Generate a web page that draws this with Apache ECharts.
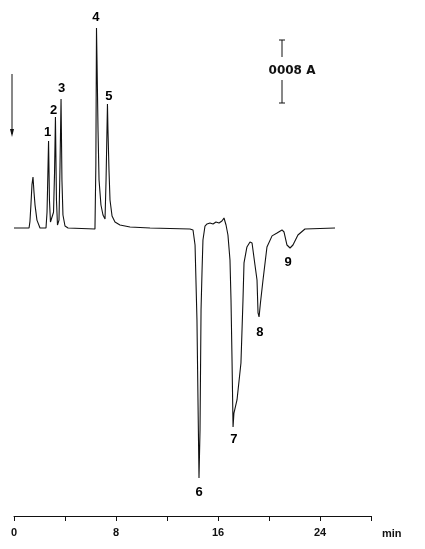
<!DOCTYPE html>
<html>
<head>
<meta charset="utf-8">
<script src="https://cdn.jsdelivr.net/npm/echarts@6/dist/echarts.min.js"></script>
<style>
html,body{margin:0;padding:0;background:#fff;}
#chart{width:425px;height:549px;}
</style>
</head>
<body>
<div id="chart"></div>
<script>
// Retention time (min)
var times = [0,1.18,1.25,1.33,1.41,1.49,1.57,1.65,1.80,2.04,2.51,2.59,2.63,2.71,2.78,2.86,2.98,3.10,3.18,3.25,3.33,3.41,3.53,3.61,3.69,3.76,3.84,4.00,4.24,6.35,6.42,6.47,6.51,6.59,6.67,6.82,6.98,7.14,7.22,7.33,7.37,7.45,7.53,7.69,7.92,8.31,9.10,10.67,13.80,14.04,14.20,14.27,14.35,14.43,14.51,14.59,14.67,14.75,14.82,14.98,15.14,15.37,15.61,15.84,16.08,16.31,16.47,16.63,16.78,16.94,17.02,17.10,17.18,17.25,17.49,17.80,17.96,18.04,18.27,18.51,18.67,18.90,19.06,19.14,19.22,19.33,19.53,19.84,20.24,20.63,21.02,21.18,21.41,21.65,21.88,22.27,22.82,25.18];
// Detector signal (mAU)
var signal = [0,0,0.8,3.0,5.5,6.48,4.5,2.9,1.0,0,0,2.0,4.83,11.05,3.56,0.76,0.51,2.0,7.0,14.10,3.56,0.38,1.0,8.0,16.38,6.10,1.65,0.25,0,-0.13,8.0,25.40,21.33,12.44,6.10,2.92,1.65,1.14,6.10,15.75,12.44,7.37,3.56,1.52,0.76,0.38,0.13,0,-0.13,-0.25,-2.16,-6.60,-11.68,-21.84,-31.75,-25.65,-10.41,-5.33,-1.52,0.25,0.51,0.63,0.51,0.76,0.63,0.89,1.27,0.38,-0.89,-4.06,-9.14,-16.76,-25.27,-23.5,-21.84,-17.14,-9.14,-4.44,-2.41,-1.78,-1.90,-4.70,-6.60,-10.79,-11.30,-9.5,-6.60,-2.41,-1.0,-0.63,-0.25,-0.51,-2.16,-2.54,-2.16,-0.89,-0.13,0];
// Peak numbers and label anchor positions
var peakNames = ['1','2','3','4','5','6','7','8','9'];
var peakLabelTimes = [2.63,3.10,3.73,6.43,7.45,14.51,17.25,19.29,21.49];
var peakLabelValues = [12.19,14.98,17.78,26.79,16.76,-33.52,-26.79,-13.21,-4.32];
// Axis ticks
var tickLabels = ['0','8','16','24'];

var chart = echarts.init(document.getElementById('chart'), null, {renderer:'canvas'});
var trace = times.map(function(t,i){return [t, signal[i]];});
var labels = peakNames.map(function(n,i){return {value:[peakLabelTimes[i], peakLabelValues[i]], name:n};});

chart.setOption({
  animation:false,
  backgroundColor:'#fff',
  grid:{left:14,right:54,top:10,bottom:33,containLabel:false},
  xAxis:{
    type:'value',min:0,max:28,interval:4,
    axisLine:{show:true,onZero:false,lineStyle:{color:'#111',width:1}},
    axisTick:{show:true,inside:false,length:5,lineStyle:{color:'#111'}},
    splitLine:{show:false},
    axisLabel:{margin:11,color:'#111',fontFamily:'Liberation Sans, Arial, sans-serif',fontWeight:'bold',fontSize:11,
      formatter:function(v){var s=String(v);return tickLabels.indexOf(s)>=0?s:'';}}
  },
  yAxis:{type:'value',min:-36.57,max:27.68,show:false,splitLine:{show:false}},
  series:[
    {type:'line',data:trace,showSymbol:false,symbol:'none',smooth:false,
     lineStyle:{color:'#111',width:1.1},z:2},
    {type:'scatter',data:labels,symbolSize:0,z:3,itemStyle:{opacity:1,color:'#111'},
     label:{show:true,position:'inside',formatter:function(p){return p.name;},
       color:'#000',opacity:1,fontFamily:'Liberation Sans, Arial, sans-serif',fontWeight:'bold',fontSize:13}}
  ],
  graphic:[
    // injection arrow
    {type:'line',shape:{x1:12,y1:74,x2:12,y2:134},style:{stroke:'#111',lineWidth:1}},
    {type:'polygon',shape:{points:[[10,129],[14,129],[12,137]]},style:{fill:'#111'}},
    // scale bar
    {type:'line',shape:{x1:282,y1:40,x2:282,y2:57},style:{stroke:'#111',lineWidth:1}},
    {type:'line',shape:{x1:279,y1:40,x2:285,y2:40},style:{stroke:'#111',lineWidth:1}},
    {type:'line',shape:{x1:282,y1:80,x2:282,y2:103},style:{stroke:'#111',lineWidth:1}},
    {type:'line',shape:{x1:279,y1:103,x2:285,y2:103},style:{stroke:'#111',lineWidth:1}},
    {type:'text',x:292,y:71,style:{text:'0008 A',fill:'#111',font:'bold 12px "DejaVu Sans", sans-serif',textAlign:'center',align:'center',textVerticalAlign:'middle',verticalAlign:'middle'}},
    // axis unit
    {type:'text',x:382,y:534,style:{text:'min',fill:'#111',font:'bold 11px "Liberation Sans", Arial, sans-serif',textVerticalAlign:'middle',verticalAlign:'middle'}}
  ]
});
</script>
</body>
</html>
